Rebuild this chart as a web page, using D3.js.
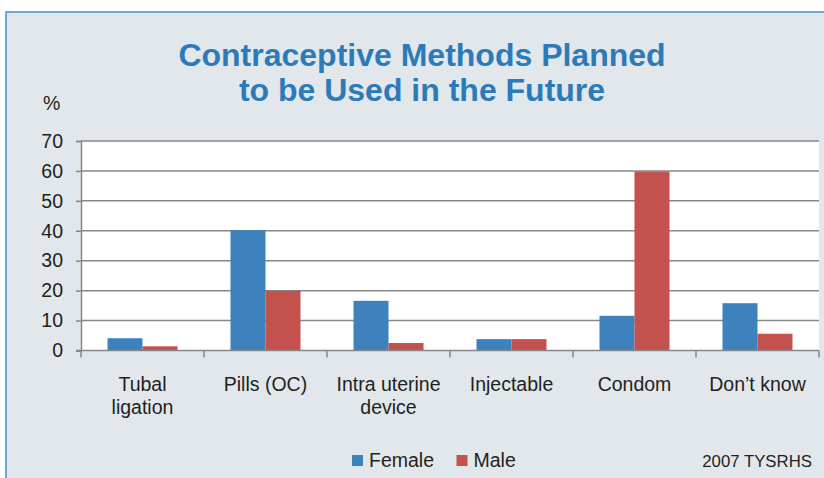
<!DOCTYPE html>
<html>
<head>
<meta charset="utf-8">
<script src="https://cdn.jsdelivr.net/npm/d3@7"></script>
<style>
  html, body { margin: 0; padding: 0; background: #ffffff; }
  svg { display: block; }
  text { font-family: "Liberation Sans", Arial, Helvetica, sans-serif; }
</style>
</head>
<body>
<svg id="chart" width="824" height="478"></svg>
<script>
// Survey data: share (%) planning each method, by sex
const categories = ["Tubal\nligation", "Pills (OC)", "Intra uterine\ndevice", "Injectable", "Condom", "Don\u2019t know"];
const seriesNames = ["Female", "Male"];
const femaleValues = [4.1, 40.2, 16.6, 3.8, 11.6, 15.8];
const maleValues = [1.4, 19.9, 2.5, 3.8, 59.8, 5.6];
const yTicks = [0, 10, 20, 30, 40, 50, 60, 70];
const titleLines = ["Contraceptive Methods Planned", "to be Used in the Future"];
const sourceNote = "2007 TYSRHS";

const colors = { Female: "#3d81bd", Male: "#c3524f" };
const gridColor = "#878787";
const textColor = "#231f20";

const svg = d3.select("#chart");

// Panel background with a thin blue border on top and left
svg.append("rect").attr("x", 6).attr("y", 12).attr("width", 818).attr("height", 466).attr("fill", "#e2e7eb");
svg.append("path").attr("d", "M6,478 V12 H824").attr("fill", "none").attr("stroke", "#4a93cc").attr("stroke-width", 1.5);

const plot = { left: 81, right: 819, top: 141, bottom: 350.5 };

const x = d3.scaleBand().domain(categories).range([plot.left, plot.right]).paddingInner(0).paddingOuter(0);
const xSub = d3.scaleBand().domain(seriesNames).range([0, x.bandwidth()]).paddingInner(0).paddingOuter(0.757);
const y = d3.scaleLinear().domain([0, 70]).range([plot.bottom, plot.top]);

// White plotting area
svg.append("rect")
  .attr("x", plot.left).attr("y", y(70))
  .attr("width", plot.right - plot.left).attr("height", y(0) - y(70))
  .attr("fill", "#ffffff");

// Horizontal gridlines
svg.append("g").selectAll("line").data(yTicks.filter(d => d > 0)).join("line")
  .attr("x1", plot.left).attr("x2", plot.right)
  .attr("y1", d => y(d)).attr("y2", d => y(d))
  .attr("stroke", gridColor).attr("stroke-width", 1.5);

// Bars
const rows = categories.map((c, i) => ({ cat: c, values: [
  { key: "Female", value: femaleValues[i] },
  { key: "Male", value: maleValues[i] }
]}));

svg.append("g").selectAll("g").data(rows).join("g")
  .attr("transform", d => `translate(${x(d.cat)},0)`)
  .selectAll("rect").data(d => d.values).join("rect")
  .attr("x", d => xSub(d.key))
  .attr("width", xSub.bandwidth())
  .attr("y", d => y(d.value))
  .attr("height", d => y(0) - y(d.value))
  .attr("fill", d => colors[d.key]);

// Y axis
const yAxis = svg.append("g")
  .attr("transform", `translate(${plot.left},0)`)
  .call(d3.axisLeft(y).tickValues(yTicks).tickSize(5).tickPadding(13).tickFormat(d3.format("d")));
yAxis.select(".domain").attr("stroke", gridColor).attr("stroke-width", 1.5);
yAxis.selectAll(".tick line").attr("stroke", gridColor).attr("stroke-width", 1.5);
yAxis.selectAll(".tick text")
  .attr("fill", textColor).attr("font-size", 19.5)
  .style("font-family", "'Liberation Sans', Arial, sans-serif");

// X axis baseline with boundary ticks
const xAxis = svg.append("g");
xAxis.append("line")
  .attr("x1", plot.left - 5).attr("x2", plot.right)
  .attr("y1", y(0)).attr("y2", y(0))
  .attr("stroke", gridColor).attr("stroke-width", 1.5);
const bounds = categories.map(c => x(c)).concat([x.range()[1]]);
xAxis.selectAll("line.b").data(bounds).join("line").attr("class", "b")
  .attr("x1", d => d).attr("x2", d => d)
  .attr("y1", y(0)).attr("y2", y(0) + 7)
  .attr("stroke", gridColor).attr("stroke-width", 1.5);

// Category labels (may wrap to two lines)
const catLabels = svg.append("g").selectAll("text").data(categories).join("text")
  .attr("x", d => x(d) + x.bandwidth() / 2)
  .attr("y", 390.5)
  .attr("text-anchor", "middle")
  .attr("font-size", 19.5)
  .attr("fill", textColor);
catLabels.selectAll("tspan").data(d => d.split("\n")).join("tspan")
  .attr("x", function() { return d3.select(this.parentNode).attr("x"); })
  .attr("dy", (d, i) => i === 0 ? 0 : 23)
  .text(d => d);

// Unit label
svg.append("text").attr("x", 43).attr("y", 110)
  .attr("font-size", 19.5).attr("fill", textColor).text("%");

// Title
svg.append("g").selectAll("text").data(titleLines).join("text")
  .attr("x", 422).attr("y", (d, i) => 66 + i * 34.5)
  .attr("text-anchor", "middle")
  .attr("font-size", 32).attr("font-weight", "bold")
  .attr("fill", "#2b7bba")
  .text(d => d);

// Legend
const legend = svg.append("g").attr("transform", "translate(352,455)");
const legendOffsets = [0, 104.5];
seriesNames.forEach((name, i) => {
  const g = legend.append("g").attr("transform", `translate(${legendOffsets[i]},0)`);
  g.append("rect").attr("width", 11).attr("height", 11).attr("fill", colors[name]);
  g.append("text").attr("x", 17).attr("y", 12)
    .attr("font-size", 19.5).attr("fill", textColor).text(name);
});

// Source note
svg.append("text").attr("x", 812).attr("y", 467)
  .attr("text-anchor", "end").attr("font-size", 16.8).attr("fill", textColor)
  .text(sourceNote);
</script>
</body>
</html>
